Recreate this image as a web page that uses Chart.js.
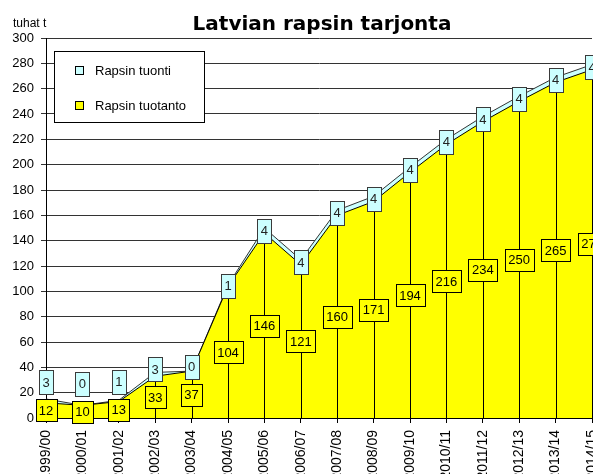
<!DOCTYPE html>
<html>
<head>
<meta charset="utf-8">
<script src="https://cdn.jsdelivr.net/npm/chart.js@4/dist/chart.umd.min.js"></script>
<style>
  html, body { margin: 0; padding: 0; background: #fff; }
  canvas { display: block; }
</style>
</head>
<body>
<canvas id="chart" width="593" height="474"></canvas>
<script>
// ── Data ──
const seasons = ['1999/00', '2000/01', '2001/02', '2002/03', '2003/04', '2004/05', '2005/06', '2006/07',
                 '2007/08', '2008/09', '2009/10', '2010/11', '2011/12', '2012/13', '2013/14', '2014/15'];
const tuotanto = [12, 10, 13, 33, 37, 104, 146, 121, 160, 171, 194, 216, 234, 250, 265, 275];
const tuonti   = [3, 0, 1, 3, 0, 1, 4, 4, 4, 4, 4, 4, 4, 4, 4, 4];
const yMin = 0, yMax = 300, yStep = 20;

const FONT = '"Liberation Sans", Arial, sans-serif';
const YELLOW = '#FFFF00';
const CYAN = '#CCFFFF';

// ── Helpers ──
function box(ctx, cx, cy, w, h, fill, stroke) {
  const x = Math.round(cx - w / 2) + 0.5;
  const y = Math.round(cy - h / 2) + 0.5;
  ctx.fillStyle = fill;
  ctx.fillRect(x, y, w, h);
  ctx.strokeStyle = stroke;
  ctx.lineWidth = 1;
  ctx.strokeRect(x, y, w, h);
}

// ── Drop lines + data labels ──
const dropLines = {
  id: 'dropLines',
  afterDatasetsDraw(chart) {
    const { ctx, chartArea, scales: { x, y } } = chart;
    ctx.save();
    ctx.beginPath();
    ctx.rect(chartArea.left, chartArea.top, chartArea.right - chartArea.left + 2, chartArea.bottom - chartArea.top);
    ctx.clip();
    ctx.strokeStyle = '#000';
    ctx.lineWidth = 1;
    seasons.forEach((s, i) => {
      const px = Math.round(x.getPixelForValue(i)) + 0.5;
      ctx.beginPath();
      ctx.moveTo(px, y.getPixelForValue(tuotanto[i] + tuonti[i]));
      ctx.lineTo(px, y.getPixelForValue(0));
      ctx.stroke();
    });
    ctx.restore();

    ctx.save();
    ctx.font = '13px ' + FONT;
    ctx.textAlign = 'center';
    ctx.textBaseline = 'middle';
    seasons.forEach((s, i) => {
      const px = x.getPixelForValue(i);
      // tuotanto label, middle of the yellow area
      const t1 = String(tuotanto[i]);
      const w1 = Math.round(ctx.measureText(t1).width) + 7, h1 = 22;
      const cy1 = y.getPixelForValue(tuotanto[i] / 2);
      box(ctx, px, cy1, w1, h1, YELLOW, '#000');
      ctx.fillStyle = '#000';
      ctx.fillText(t1, px, cy1 + 1);

      // tuonti label, middle of the cyan band, pushed up if it would overlap
      const t2 = String(tuonti[i]);
      const w2 = Math.round(ctx.measureText(t2).width) + 7, h2 = 24;
      let cy2 = y.getPixelForValue(tuotanto[i] + tuonti[i] / 2);
      cy2 = Math.min(cy2, cy1 - h1 / 2 - 5 - h2 / 2);
      box(ctx, px, cy2, w2, h2, CYAN, '#3a3a3a');
      ctx.fillStyle = '#222';
      ctx.fillText(t2, px, cy2 + 1);
    });
    ctx.restore();
  },
  afterDraw(chart) {
    const { ctx } = chart;
    ctx.save();
    // title
    ctx.font = 'bold 20px "DejaVu Sans", sans-serif';
    ctx.fillStyle = '#000';
    ctx.textAlign = 'center';
    ctx.textBaseline = 'alphabetic';
    ctx.fillText('Latvian rapsin tarjonta', 322, 30);
    // unit
    ctx.font = '12px ' + FONT;
    ctx.textAlign = 'left';
    ctx.fillText('tuhat t', 13, 27);
    // legend
    ctx.fillStyle = '#fff';
    ctx.fillRect(54.5, 51.5, 150, 71);
    ctx.strokeStyle = '#000';
    ctx.lineWidth = 1;
    ctx.strokeRect(54.5, 51.5, 150, 71);
    const items = [['Rapsin tuonti', CYAN, 70], ['Rapsin tuotanto', YELLOW, 105]];
    ctx.font = '13px ' + FONT;
    ctx.textBaseline = 'middle';
    items.forEach(([label, col, cy]) => {
      box(ctx, 79, cy, 8, 8, col, '#000');
      ctx.fillStyle = '#000';
      ctx.fillText(label, 95, cy + 1);
    });
    ctx.restore();
  }
};

new Chart(document.getElementById('chart'), {
  type: 'line',
  data: {
    labels: seasons,
    datasets: [
      { label: 'Rapsin tuotanto', data: tuotanto, fill: 'origin', backgroundColor: YELLOW,
        borderColor: '#000', borderWidth: 1, pointRadius: 0, tension: 0 },
      { label: 'Rapsin tuonti', data: tuonti, fill: '-1', backgroundColor: CYAN,
        borderColor: '#333', borderWidth: 1, pointRadius: 0, tension: 0 }
    ]
  },
  options: {
    responsive: false,
    animation: false,
    devicePixelRatio: 1,
    layout: { padding: { top: 38, right: 1, left: 0, bottom: 0 } },
    plugins: { legend: { display: false }, title: { display: false }, tooltip: { enabled: false } },
    scales: {
      x: {
        grid: { drawOnChartArea: false, drawTicks: true, tickLength: 5, color: '#000' },
        border: { display: true, color: '#000', width: 2 },
        ticks: { color: '#000', font: { family: FONT, size: 14 }, minRotation: 90, maxRotation: 90,
                 autoSkip: false, padding: 7 },
        afterFit(scale) { scale.height = 56; scale.paddingLeft = 0; scale.paddingRight = 0; }
      },
      y: {
        stacked: true,
        min: yMin, max: yMax,
        grid: { color: '#333', lineWidth: 1, tickLength: 5 },
        border: { display: true, color: '#000', width: 1 },
        ticks: { stepSize: yStep, color: '#000', font: { family: FONT, size: 13 }, padding: 7 },
        afterFit(scale) { scale.width = 46; }
      }
    }
  },
  plugins: [dropLines]
});
</script>
</body>
</html>
